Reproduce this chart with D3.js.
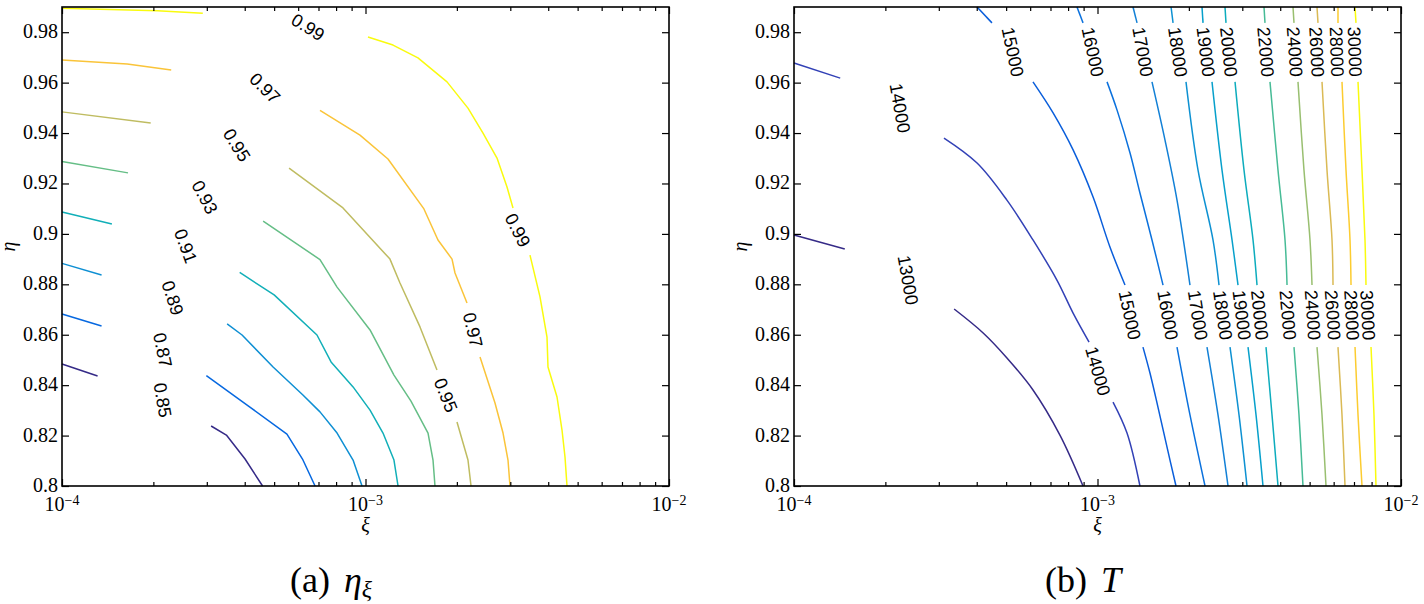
<!DOCTYPE html>
<html><head>
<meta charset="utf-8">
<title>eta_xi and T contour maps</title>
<script src="https://d3js.org/d3.v7.min.js"></script>
<style>
  body { margin: 0; background: #fff; }
  svg { display: block; background: #fff; }
  text.ticklab { font-family: "Liberation Serif", "Times New Roman", serif; font-size: 20px; fill: #000; }
  text.clabel { font-family: "Liberation Sans", Arial, sans-serif; font-size: 18px; fill: #000; }
  text.title { font-family: "Liberation Serif", "Times New Roman", serif; fill: #000; }
</style>
</head>
<body>
<svg id="fig" width="1424" height="604"></svg>

<script>
// ---- data ----
const etaTicks = [0.8, 0.82, 0.84, 0.86, 0.88, 0.9, 0.92, 0.94, 0.96, 0.98];
const xiDecades = [1e-4, 1e-3, 1e-2];
const xiDomain = [1e-4, 1e-2];
const etaDomain = [0.8, 0.99];

// (a) efficiency contours, one entry per level, each a list of pieces of [xi, eta]
const effLevels = [0.85, 0.87, 0.89, 0.91, 0.93, 0.95, 0.97, 0.99];
const effLines = [
  [[[1e-4, 0.8484], [1.31e-4, 0.8436]],
   [[3.10e-4, 0.8238], [3.48e-4, 0.8202], [4.01e-4, 0.8107], [4.58e-4, 0.8]]],
  [[[1e-4, 0.8682], [1.35e-4, 0.8635]],
   [[2.99e-4, 0.8438], [4.16e-4, 0.8313], [5.51e-4, 0.8206], [6.20e-4, 0.8107], [6.82e-4, 0.8]]],
  [[[1e-4, 0.8883], [1.35e-4, 0.8837]],
   [[3.50e-4, 0.8643], [3.92e-4, 0.8599], [4.96e-4, 0.8472], [6.22e-4, 0.8361], [7.08e-4, 0.8294],
    [8.06e-4, 0.8210], [9.10e-4, 0.8103], [9.74e-4, 0.8]]],
  [[[1e-4, 0.9087], [1.46e-4, 0.9039]],
   [[3.85e-4, 0.8847], [5.00e-4, 0.8758], [6.92e-4, 0.8599], [7.70e-4, 0.8492], [9.10e-4, 0.8393],
    [1.035e-3, 0.8301], [1.142e-3, 0.8210], [1.241e-3, 0.8103], [1.280e-3, 0.8]]],
  [[[1e-4, 0.9287], [1.65e-4, 0.9242]],
   [[4.60e-4, 0.9051], [7.08e-4, 0.8898], [8.06e-4, 0.8789], [1.035e-3, 0.8619], [1.241e-3, 0.8440],
    [1.412e-3, 0.8337], [1.607e-3, 0.8210], [1.669e-3, 0.8103], [1.694e-3, 0.8]]],
  [[[1e-4, 0.9484], [1.96e-4, 0.9440]],
   [[5.60e-4, 0.9261], [8.43e-4, 0.9103], [1.204e-3, 0.8900], [1.299e-3, 0.8805], [1.512e-3, 0.8631],
    [1.720e-3, 0.8460]],
   [[2.002e-3, 0.8254], [2.176e-3, 0.8103], [2.227e-3, 0.8]]],
  [[[1e-4, 0.9690], [1.64e-4, 0.9674], [2.29e-4, 0.9650]],
   [[7.08e-4, 0.9490], [9.59e-4, 0.9392], [1.186e-3, 0.9297], [1.558e-3, 0.9099], [1.733e-3, 0.8976],
    [1.928e-3, 0.8900], [1.972e-3, 0.8845], [2.160e-3, 0.8726]],
   [[2.384e-3, 0.8512], [2.671e-3, 0.8329], [2.839e-3, 0.8210], [2.948e-3, 0.8103], [2.993e-3, 0.8]]],
  [[[1e-4, 0.9895], [2.06e-4, 0.9885], [2.91e-4, 0.9875]],
   [[1.019e-3, 0.9781], [1.232e-3, 0.9749], [1.489e-3, 0.9698], [1.856e-3, 0.9603], [2.176e-3, 0.9499],
    [2.439e-3, 0.9400], [2.712e-3, 0.9301], [2.926e-3, 0.9186], [3.062e-3, 0.9103]],
   [[3.483e-3, 0.8916], [3.758e-3, 0.8750], [3.963e-3, 0.8591], [3.993e-3, 0.8472], [4.276e-3, 0.8353],
    [4.441e-3, 0.8222], [4.543e-3, 0.8115], [4.612e-3, 0.8]]]
];
// inline labels: [level, xi, eta, angle in degrees]
const effLabels = [
  [0.85, 2.15e-4, 0.8341, 80], [0.87, 2.15e-4, 0.8539, 78], [0.89, 2.32e-4, 0.8746, 72],
  [0.91, 2.56e-4, 0.8952, 70], [0.93, 2.96e-4, 0.9146, 62], [0.95, 3.77e-4, 0.9353, 58],
  [0.97, 4.67e-4, 0.9579, 45], [0.99, 6.47e-4, 0.9821, 32],
  [0.95, 1.842e-3, 0.8361, 68], [0.97, 2.261e-3, 0.8619, 77], [0.99, 3.180e-3, 0.9015, 63]
];

// (b) T contours
const tempLevels = [13000, 14000, 15000, 16000, 17000, 18000, 19000, 20000, 22000, 24000, 26000, 28000, 30000];
const tempLines = [
  [[[1e-4, 0.8996], [1.47e-4, 0.8940]],
   [[3.37e-4, 0.8702], [4.20e-4, 0.8607], [5.03e-4, 0.8508], [6.13e-4, 0.8381], [7.52e-4, 0.8202], [8.96e-4, 0.8]]],
  [[[1e-4, 0.9678], [1.42e-4, 0.9618]],
   [[3.12e-4, 0.9380], [4.01e-4, 0.9281], [5.03e-4, 0.9134], [6.13e-4, 0.8976], [7.35e-4, 0.8817],
    [8.31e-4, 0.8686], [9.38e-4, 0.8571]],
   [[1.125e-3, 0.8333], [1.251e-3, 0.8210], [1.380e-3, 0.8]]],
  [[[4.01e-4, 0.99], [4.49e-4, 0.9837]],
   [[6.13e-4, 0.9603], [7.14e-4, 0.9480], [8.31e-4, 0.9333], [9.67e-4, 0.9146], [1.099e-3, 0.8948], [1.232e-3, 0.8797]],
   [[1.412e-3, 0.8551], [1.489e-3, 0.8448], [1.582e-3, 0.8313], [1.694e-3, 0.8155], [1.814e-3, 0.8]]],
  [[[8.56e-4, 0.99], [8.96e-4, 0.9837]],
   [[1.075e-3, 0.9603], [1.160e-3, 0.9491], [1.280e-3, 0.9321], [1.380e-3, 0.9162], [1.512e-3, 0.8976], [1.644e-3, 0.8797]],
   [[1.828e-3, 0.8551], [2.017e-3, 0.8282], [2.261e-3, 0.8]]],
  [[[1.309e-3, 0.99], [1.350e-3, 0.9837]],
   [[1.512e-3, 0.9603], [1.669e-3, 0.9372], [1.828e-3, 0.9134], [2.017e-3, 0.8797]],
   [[2.295e-3, 0.8551], [2.495e-3, 0.8282], [2.692e-3, 0.8]]],
  [[[1.747e-3, 0.99], [1.774e-3, 0.9837]],
   [[1.957e-3, 0.9603], [2.144e-3, 0.9253], [2.402e-3, 0.8976], [2.514e-3, 0.8797]],
   [[2.733e-3, 0.8551], [2.926e-3, 0.8282], [3.109e-3, 0.8]]],
  [[[2.210e-3, 0.99], [2.227e-3, 0.9837]],
   [[2.384e-3, 0.9603], [2.572e-3, 0.9253], [2.775e-3, 0.8976], [2.904e-3, 0.8797]],
   [[3.133e-3, 0.8551], [3.329e-3, 0.8282], [3.510e-3, 0.8]]],
  [[[2.631e-3, 0.99], [2.651e-3, 0.9837]],
   [[2.839e-3, 0.9603], [3.039e-3, 0.9253], [3.254e-3, 0.8976], [3.354e-3, 0.8797]],
   [[3.591e-3, 0.8551], [3.758e-3, 0.8282], [3.933e-3, 0.8]]],
  [[[3.537e-3, 0.99], [3.564e-3, 0.9837]],
   [[3.701e-3, 0.9603], [3.933e-3, 0.9253], [4.148e-3, 0.8976], [4.212e-3, 0.8797]],
   [[4.441e-3, 0.8551], [4.612e-3, 0.8282], [4.754e-3, 0.8]]],
  [[[4.408e-3, 0.99], [4.441e-3, 0.9837]],
   [[4.577e-3, 0.9603], [4.790e-3, 0.9253], [5.014e-3, 0.8976], [5.091e-3, 0.8797]],
   [[5.288e-3, 0.8551], [5.492e-3, 0.8282], [5.661e-3, 0.8]]],
  [[[5.288e-3, 0.99], [5.328e-3, 0.9837]],
   [[5.492e-3, 0.9603], [5.704e-3, 0.9253], [5.925e-3, 0.8976], [5.970e-3, 0.8797]],
   [[6.200e-3, 0.8551], [6.391e-3, 0.8282], [6.539e-3, 0.8]]],
  [[[6.200e-3, 0.99], [6.200e-3, 0.9837]],
   [[6.391e-3, 0.9603], [6.589e-3, 0.9253], [6.792e-3, 0.8976], [6.844e-3, 0.8797]],
   [[7.055e-3, 0.8551], [7.217e-3, 0.8282], [7.439e-3, 0.8]]],
  [[[7.055e-3, 0.99], [7.109e-3, 0.9837]],
   [[7.217e-3, 0.9603], [7.439e-3, 0.9253], [7.610e-3, 0.8976], [7.668e-3, 0.8797]],
   [[7.965e-3, 0.8551], [8.147e-3, 0.8282], [8.272e-3, 0.8]]]
];
const tempLabels = [
  [13000, 2.38e-4, 0.8817, 80], [14000, 2.24e-4, 0.9499, 80], [14000, 1.004e-3, 0.8456, 74],
  [15000, 5.27e-4, 0.9722, 78], [15000, 1.280e-3, 0.8678, 78],
  [16000, 9.67e-4, 0.9722, 78], [16000, 1.708e-3, 0.8678, 80],
  [17000, 1.412e-3, 0.9722, 80], [17000, 2.144e-3, 0.8678, 81],
  [18000, 1.842e-3, 0.9722, 82], [18000, 2.591e-3, 0.8678, 82],
  [19000, 2.278e-3, 0.9722, 83], [19000, 2.993e-3, 0.8678, 83],
  [20000, 2.712e-3, 0.9722, 84], [20000, 3.431e-3, 0.8678, 84],
  [22000, 3.591e-3, 0.9722, 85], [22000, 4.244e-3, 0.8678, 85],
  [24000, 4.475e-3, 0.9722, 86], [24000, 5.130e-3, 0.8678, 86],
  [26000, 5.288e-3, 0.9722, 87], [26000, 5.970e-3, 0.8678, 86],
  [28000, 6.153e-3, 0.9722, 88], [28000, 6.896e-3, 0.8678, 87],
  [30000, 7.055e-3, 0.9722, 88], [30000, 7.786e-3, 0.8678, 87]
];

// parula-like colour map (sampled every 4th entry of the 64 table)
const parulaStops = ["#352a87", "#3243ba", "#0363e1", "#0d75dc", "#1485d4", "#0998d1", "#06a7c6", "#15b1b4",
  "#38b99e", "#65be86", "#92bf73", "#b7bd64", "#d9ba56", "#f8bb44", "#fcce2e", "#f5eb18", "#f9fb0e"];
const parulaPos = parulaStops.map((d, i) => Math.min(i * 4, 63) / 63);
const parula = d3.scaleLinear().domain(parulaPos).range(parulaStops).interpolate(d3.interpolateRgb);

const fig = d3.select("#fig");
const plotTop = 7, plotBottom = 486, plotWidth = 607;
const serif = '"Liberation Serif", "Times New Roman", serif';

function drawPanel(left, levels, lines, labels, curve, captionCenter, caption) {
  const x = d3.scaleLog().domain(xiDomain).range([left, left + plotWidth]);
  const y = d3.scaleLinear().domain(etaDomain).range([plotBottom, plotTop]);
  const norm = d3.scaleLinear().domain(d3.extent(levels)).range([0, 1]);
  const line = d3.line().x(d => x(d[0])).y(d => y(d[1])).curve(curve);

  const g = fig.append("g");

  // contour pieces
  levels.forEach((lv, i) => {
    g.append("g").selectAll("path").data(lines[i]).join("path")
      .attr("d", line)
      .attr("fill", "none")
      .attr("stroke", parula(norm(lv)))
      .attr("stroke-width", 1.5)
      .attr("stroke-linejoin", "round");
  });

  // inline labels
  g.append("g").selectAll("text").data(labels).join("text")
    .attr("class", "clabel")
    .attr("text-anchor", "middle")
    .attr("dy", "0.36em")
    .attr("transform", d => `translate(${x(d[1])},${y(d[2])}) rotate(${d[3]})`)
    .text(d => String(d[0]));

  // ticks, pointing inwards on all four sides
  const isDecade = v => Math.abs(Math.log10(v) - Math.round(Math.log10(v))) < 1e-6;
  const minor = x.ticks().filter(v => !isDecade(v));
  const tickStyle = sel => {
    sel.select(".domain").remove();
    sel.selectAll(".tick line").attr("stroke", "#000").attr("stroke-width", 1.2);
  };
  g.append("g").attr("transform", `translate(0,${plotBottom})`)
    .call(d3.axisBottom(x).tickValues(minor).tickSize(-4).tickFormat("")).call(tickStyle);
  g.append("g").attr("transform", `translate(0,${plotBottom})`)
    .call(d3.axisBottom(x).tickValues(xiDecades).tickSize(-7).tickFormat("")).call(tickStyle);
  g.append("g").attr("transform", `translate(0,${plotTop})`)
    .call(d3.axisTop(x).tickValues(minor).tickSize(-4).tickFormat("")).call(tickStyle);
  g.append("g").attr("transform", `translate(0,${plotTop})`)
    .call(d3.axisTop(x).tickValues(xiDecades).tickSize(-7).tickFormat("")).call(tickStyle);
  g.append("g").attr("transform", `translate(${left},0)`)
    .call(d3.axisLeft(y).tickValues(etaTicks).tickSize(-7).tickFormat("")).call(tickStyle);
  g.append("g").attr("transform", `translate(${left + plotWidth},0)`)
    .call(d3.axisRight(y).tickValues(etaTicks).tickSize(-7).tickFormat("")).call(tickStyle);

  // frame
  g.append("rect")
    .attr("x", left).attr("y", plotTop)
    .attr("width", plotWidth).attr("height", plotBottom - plotTop)
    .attr("fill", "none").attr("stroke", "#000").attr("stroke-width", 1.6);

  // tick labels
  const fmt = d3.format("~g");
  g.append("g").selectAll("text").data(etaTicks).join("text")
    .attr("class", "ticklab")
    .attr("font-family", serif)
    .attr("text-anchor", "end")
    .attr("x", left - 4)
    .attr("y", d => y(d) + 6)
    .text(d => fmt(d));

  const xl = g.append("g").selectAll("text").data(xiDecades).join("text")
    .attr("class", "ticklab")
    .attr("font-family", serif)
    .attr("text-anchor", "middle")
    .attr("x", d => x(d))
    .attr("y", 511);
  xl.append("tspan").text("10");
  xl.append("tspan").attr("dy", -6).attr("font-size", 14)
    .text(d => "\u2212" + Math.abs(Math.round(Math.log10(d))));

  // axis titles
  g.append("text").attr("class", "title")
    .attr("font-family", serif)
    .attr("x", left + plotWidth / 2).attr("y", 532)
    .attr("text-anchor", "middle").attr("font-size", 20).attr("font-style", "italic")
    .text("\u03be");
  g.append("text").attr("class", "title")
    .attr("font-family", serif)
    .attr("transform", `translate(${left - 47},${(plotTop + plotBottom) / 2}) rotate(-90)`)
    .attr("text-anchor", "middle").attr("font-size", 20).attr("font-style", "italic")
    .text("\u03b7");

  // sub-caption
  const cap = g.append("text").attr("class", "title")
    .attr("font-family", serif)
    .attr("x", captionCenter).attr("y", 592)
    .attr("text-anchor", "middle").attr("font-size", 36);
  cap.append("tspan").text(caption[0]);
  cap.append("tspan").attr("dx", 14).attr("font-style", "italic").text(caption[1]);
  if (caption[2]) {
    cap.append("tspan").attr("dy", 5).attr("font-size", 24).attr("font-style", "italic").text(caption[2]);
  }
}

drawPanel(62, effLevels, effLines, effLabels, d3.curveLinear, 331, ["(a)", "\u03b7", "\u03be"]);
drawPanel(794, tempLevels, tempLines, tempLabels, d3.curveCatmullRom.alpha(0.5), 1083, ["(b)", "T"]);
</script>
</body>
</html>
